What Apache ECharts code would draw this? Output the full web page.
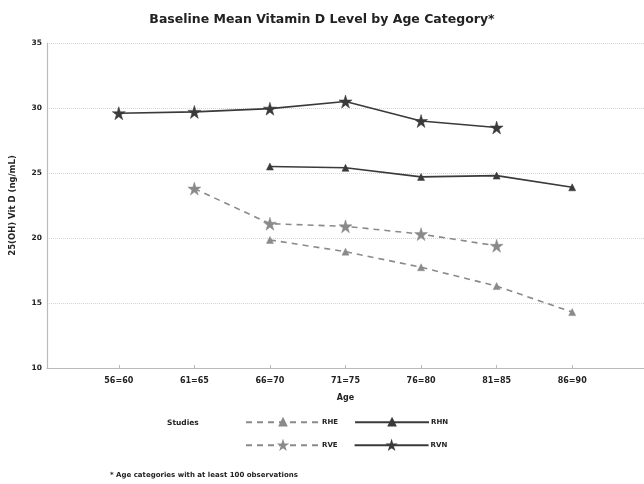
<!DOCTYPE html>
<html><head><meta charset="utf-8">
<script src="https://cdn.jsdelivr.net/npm/echarts@6/dist/echarts.min.js"></script>
<style>html,body{margin:0;padding:0;background:#fff}#c{width:644px;height:484px}</style>
</head><body><div id="c"></div>
<script>
const categories = ['56=60','61=65','66=70','71=75','76=80','81=85','86=90'];
const yTicks = [10,15,20,25,30,35];
// values per category (null = no data)
const RHE = [null, null, 19.85, 18.95, 17.75, 16.3, 14.3];
const RHN = [null, null, 25.5, 25.4, 24.7, 24.8, 23.9];
const RVE = [null, 23.8, 21.1, 20.9, 20.3, 19.4, null];
const RVN = [29.6, 29.7, 29.95, 30.5, 29.0, 28.5, null];

const STAR = 'path://M50,0 L61,35 L98,35 L68,57 L79,91 L50,70 L21,91 L32,57 L2,35 L39,35 Z';
const toPts = arr => arr.map((v,i)=> v==null?null:[i+1, v]).filter(p=>p);
const FONT = 'DejaVu Sans, Verdana, sans-serif';

function mk(name, data, color, dashed, symbol, size){
  return {name, type:'line', data: toPts(data), symbol, symbolSize:size,
    lineStyle:{color, width:1.6, type: dashed?[6,5]:'solid'},
    itemStyle:{color, borderColor:color, borderWidth:0.5}};
}
function lg(top, names){
  return {left:245, top, padding:0, orient:'horizontal', itemWidth:74, itemHeight:8, itemGap:16,
    data:names,
    textStyle:{fontFamily:FONT, fontSize:7, fontWeight:'bold', color:'#222', padding:[0,0,0,-3]}};
}

const chart = echarts.init(document.getElementById('c'));
chart.setOption({
  animation:false,
  backgroundColor:'#fff',
  title:{text:'Baseline Mean Vitamin D Level by Age Category*', left:'center', top:8,
    textStyle:{fontFamily:FONT, fontSize:12.5, fontWeight:'bold', color:'#222'}},
  grid:{left:46, top:43, right:0, bottom:116},
  xAxis:{type:'value', min:0.05, max:7.95, name:'Age', nameLocation:'middle', nameGap:26,
    nameTextStyle:{fontFamily:FONT, fontSize:8, fontWeight:'bold', color:'#222'},
    axisLine:{lineStyle:{color:'#bbb', width:1.2}},
    axisTick:{show:true, inside:true, length:3, lineStyle:{color:'#bbb'}, customValues:[1,2,3,4,5,6,7]},
    axisLabel:{customValues:[1,2,3,4,5,6,7], formatter:v=>categories[Math.round(v)-1]||'',
      fontFamily:FONT, fontSize:8, fontWeight:'bold', color:'#222', margin:9},
    splitLine:{show:false}},
  yAxis:{type:'value', min:10, max:35, interval:5, name:'25(OH) Vit D (ng/mL)', nameLocation:'middle', nameGap:30,
    nameTextStyle:{fontFamily:FONT, fontSize:8.5, fontWeight:'bold', color:'#222'},
    axisLine:{show:true, lineStyle:{color:'#bbb', width:1.2}},
    axisTick:{show:false},
    axisLabel:{fontFamily:FONT, fontSize:7.5, fontWeight:'bold', color:'#222', margin:5},
    splitLine:{show:true, lineStyle:{color:'#d4d4d4', type:'dotted', width:1}}},
  legend:[lg(418, ['RHE','RHN']), lg(441, ['RVE','RVN'])],
  graphic:[
    {type:'text', left:167, top:419, style:{text:'Studies', font:'bold 7.5px '+FONT, fill:'#222'}},
    {type:'text', left:110, top:472, style:{text:'* Age categories with at least 100 observations', font:'bold 7px '+FONT, fill:'#222'}}
  ],
  series:[
    mk('RHE', RHE, '#8a8a8a', true, 'triangle', 7),
    mk('RHN', RHN, '#3a3a3a', false, 'triangle', 7),
    mk('RVE', RVE, '#8a8a8a', true, STAR, 13),
    mk('RVN', RVN, '#3a3a3a', false, STAR, 13)
  ]
});
</script></body></html>
